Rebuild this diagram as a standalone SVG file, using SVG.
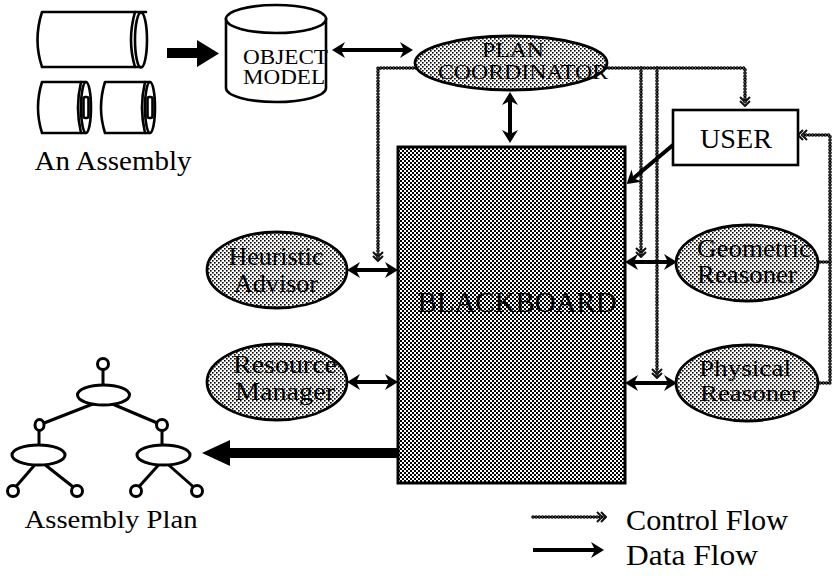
<svg xmlns="http://www.w3.org/2000/svg" xmlns:xlink="http://www.w3.org/1999/xlink" width="832" height="576" viewBox="0 0 832 576">
  <defs>
    <style>
      .txt { font-family: "Liberation Serif", "Times New Roman", serif; fill: #000; text-anchor: middle; }
      .ln { fill: none; stroke: #000; stroke-width: 2.6; stroke-linejoin: round; stroke-linecap: round; }
      .wf { fill: #fff; stroke: #000; stroke-width: 2.6; }
      .ell { fill: url(#stipple); stroke: #000; stroke-width: 2.8; }
      .data { fill: none; stroke: #000; stroke-width: 4; }
      .data2 { marker-start: url(#dhead); marker-end: url(#dhead); }
      .data1 { marker-end: url(#dhead); }
      .ctl-out { fill: none; stroke: #000; stroke-width: 3.6; stroke-dasharray: 0 3.2; stroke-linecap: round; stroke-linejoin: round; marker-end: url(#chead); }
      .ctl-in { fill: none; stroke: #fff; stroke-width: 0.8; stroke-dasharray: 0 3.2; stroke-linecap: round; marker-end: none; }
      .tree { fill: #fff; stroke: #000; stroke-width: 3; }
    </style>
    <!-- light dot stipple for the agent ellipses -->
    <pattern id="stipple" width="4" height="4" patternUnits="userSpaceOnUse">
      <rect width="4" height="4" fill="#fff"/>
      <rect x="0" y="0" width="1.6" height="1.6" fill="#000"/>
      <rect x="2" y="2" width="1.6" height="1.6" fill="#000"/>
    </pattern>
    <!-- dense checker for the blackboard -->
    <pattern id="checker" width="4" height="4" patternUnits="userSpaceOnUse">
      <rect width="4" height="4" fill="#fff"/>
      <rect x="0" y="0" width="2" height="2" fill="#000"/>
      <rect x="2" y="2" width="2" height="2" fill="#000"/>
    </pattern>
    <!-- barbed solid head for data flow -->
    <marker id="dhead" viewBox="-12 -9 16 18" refX="0" refY="0" markerWidth="16" markerHeight="18" markerUnits="userSpaceOnUse" orient="auto-start-reverse">
      <path d="M3,0 L-10,-8 L-6,0 L-10,8 Z" fill="#000"/>
    </marker>
    <!-- open double chevron for control flow -->
    <marker id="chead" viewBox="-9 -7 12 14" refX="0" refY="0" markerWidth="12" markerHeight="14" markerUnits="userSpaceOnUse" orient="auto">
      <path d="M-7,-5 L-2,0 L-7,5 M-3,-5 L2,0 L-3,5" fill="none" stroke="#111" stroke-width="2"/>
    </marker>
    <!-- control flow routes -->
    <path id="c1" d="M416,68 L378,68 L378,259"/>
    <path id="c2" d="M606,68 L745,68 L745,104"/>
    <path id="c3" d="M641,68 L641,255"/>
    <path id="c4" d="M657,68 L657,376"/>
    <path id="c5" d="M817,262 L830,262"/>
    <path id="c6" d="M817,383 L830,383 L830,135 L800,135"/>
    <path id="c7" d="M533,517 L604,517"/>
  </defs>

  <!-- connectors -->
  <g id="connectors">
    <use xlink:href="#c1" class="ctl-out"/><use xlink:href="#c1" class="ctl-in"/>
    <use xlink:href="#c2" class="ctl-out"/><use xlink:href="#c2" class="ctl-in"/>
    <use xlink:href="#c3" class="ctl-out"/><use xlink:href="#c3" class="ctl-in"/>
    <use xlink:href="#c4" class="ctl-out"/><use xlink:href="#c4" class="ctl-in"/>
    <use xlink:href="#c5" class="ctl-out" style="marker-end:none"/><use xlink:href="#c5" class="ctl-in"/>
    <use xlink:href="#c6" class="ctl-out"/><use xlink:href="#c6" class="ctl-in"/>

    <!-- assembly to object model -->
    <polygon points="167,48 197,48 197,40 219,53.5 197,67 197,58 167,58" fill="#000"/>
    <!-- object model <-> plan coordinator -->
    <line x1="335" y1="50" x2="410" y2="50" class="data data2"/>
    <!-- plan coordinator <-> blackboard -->
    <line x1="510" y1="95" x2="510" y2="140" class="data data2"/>
    <!-- user -> blackboard -->
    <line x1="673" y1="145" x2="629" y2="182" class="data data1"/>
    <!-- agents <-> blackboard -->
    <line x1="350" y1="270" x2="395" y2="270" class="data data2"/>
    <line x1="350" y1="382" x2="395" y2="382" class="data data2"/>
    <line x1="628" y1="262" x2="674" y2="262" class="data data2"/>
    <line x1="628" y1="383" x2="674" y2="383" class="data data2"/>
    <!-- blackboard to assembly plan -->
    <polygon points="398,448 230,448 230,440 202,453 230,466 230,458 398,458" fill="#000"/>
  </g>

  <!-- an assembly -->
  <g id="assembly">
    <path d="M146,12 L42,12 Q33,40 42,67 L141,67" class="ln"/>
    <path d="M135,12 Q127,40 135,67" class="ln"/>
    <ellipse cx="141" cy="40" rx="6" ry="27.5" class="ln"/>

    <path d="M86,82 L42,82 Q34,107.5 42,133 L86,133" class="ln"/>
    <path d="M81,82 Q75,107.5 81,133" class="ln"/>
    <ellipse cx="86" cy="107.5" rx="5" ry="25.5" class="ln"/>
    <rect x="83.5" y="97" width="5" height="21" rx="2" class="ln"/>

    <path d="M150,82 L105,82 Q97,107.5 105,133 L150,133" class="ln"/>
    <path d="M145,82 Q139,107.5 145,133" class="ln"/>
    <ellipse cx="150" cy="107.5" rx="5" ry="25.5" class="ln"/>
    <rect x="147.5" y="97" width="5" height="21" rx="2" class="ln"/>

    <text x="113" y="170" class="txt" font-size="27" textLength="157" lengthAdjust="spacingAndGlyphs">An Assembly</text>
  </g>

  <!-- object model store -->
  <g id="object-model">
    <path d="M226,19 L226,88 A50,14 0 0 0 326,88 L326,19 Z" class="wf"/>
    <ellipse cx="276" cy="19" rx="50" ry="14" class="wf"/>
    <text x="285.5" y="64" class="txt" font-size="20" textLength="85" lengthAdjust="spacingAndGlyphs">OBJECT</text>
    <text x="284" y="84" class="txt" font-size="20" textLength="82" lengthAdjust="spacingAndGlyphs">MODEL</text>
  </g>

  <!-- plan coordinator -->
  <g id="plan-coordinator">
    <ellipse cx="511" cy="63" rx="96" ry="27" class="ell"/>
    <text x="513" y="57" class="txt" font-size="20" textLength="62" lengthAdjust="spacingAndGlyphs">PLAN</text>
    <text x="523" y="79" class="txt" font-size="20" textLength="170" lengthAdjust="spacingAndGlyphs">COORDINATOR</text>
  </g>

  <!-- user -->
  <g id="user">
    <rect x="673" y="110" width="125" height="55" class="wf"/>
    <text x="736" y="148" class="txt" font-size="28" textLength="72" lengthAdjust="spacingAndGlyphs">USER</text>
  </g>

  <!-- blackboard -->
  <g id="blackboard">
    <rect x="398" y="147" width="227" height="336" fill="url(#checker)" stroke="#000" stroke-width="3"/>
    <text x="517" y="312" class="txt" font-size="29" textLength="199" lengthAdjust="spacingAndGlyphs">BLACKBOARD</text>
  </g>

  <!-- knowledge sources -->
  <g id="heuristic-advisor">
    <ellipse cx="277" cy="270" rx="70" ry="38" class="ell"/>
    <text x="276" y="265" class="txt" font-size="26" textLength="95" lengthAdjust="spacingAndGlyphs">Heuristic</text>
    <text x="276" y="292" class="txt" font-size="26" textLength="84" lengthAdjust="spacingAndGlyphs">Advisor</text>
  </g>
  <g id="resource-manager">
    <ellipse cx="277" cy="382" rx="70" ry="38" class="ell"/>
    <text x="285" y="373" class="txt" font-size="26" textLength="104" lengthAdjust="spacingAndGlyphs">Resource</text>
    <text x="285" y="400" class="txt" font-size="26" textLength="100" lengthAdjust="spacingAndGlyphs">Manager</text>
  </g>
  <g id="geometric-reasoner">
    <ellipse cx="747" cy="263" rx="71" ry="38" class="ell"/>
    <text x="754" y="257" class="txt" font-size="25" textLength="114" lengthAdjust="spacingAndGlyphs">Geometric</text>
    <text x="747" y="283" class="txt" font-size="25" textLength="100" lengthAdjust="spacingAndGlyphs">Reasoner</text>
  </g>
  <g id="physical-reasoner">
    <ellipse cx="747" cy="383" rx="71" ry="38" class="ell"/>
    <text x="745" y="376" class="txt" font-size="24" textLength="92" lengthAdjust="spacingAndGlyphs">Physical</text>
    <text x="750" y="401" class="txt" font-size="24" textLength="100" lengthAdjust="spacingAndGlyphs">Reasoner</text>
  </g>

  <!-- assembly plan tree -->
  <g id="assembly-plan">
    <line x1="103" y1="363" x2="103" y2="395" class="tree"/>
    <line x1="39" y1="425" x2="103" y2="400" class="tree"/>
    <line x1="162" y1="425" x2="103" y2="400" class="tree"/>
    <line x1="39" y1="425" x2="39" y2="455" class="tree"/>
    <line x1="162" y1="425" x2="162" y2="455" class="tree"/>
    <line x1="13" y1="490" x2="39" y2="460" class="tree"/>
    <line x1="77" y1="490" x2="39" y2="460" class="tree"/>
    <line x1="136" y1="490" x2="163" y2="460" class="tree"/>
    <line x1="197" y1="490" x2="163" y2="460" class="tree"/>
    <ellipse cx="103.5" cy="395" rx="26" ry="10" class="tree"/>
    <ellipse cx="38.5" cy="455" rx="26.5" ry="10" class="tree"/>
    <ellipse cx="163.5" cy="455" rx="26.5" ry="10" class="tree"/>
    <circle cx="103" cy="364" r="5.5" class="tree"/>
    <ellipse cx="39.5" cy="425" rx="4.5" ry="5.5" class="tree"/>
    <circle cx="162" cy="425" r="5.5" class="tree"/>
    <circle cx="13" cy="491" r="5.5" class="tree"/>
    <circle cx="77" cy="491" r="5.5" class="tree"/>
    <circle cx="136" cy="491" r="5.5" class="tree"/>
    <circle cx="197" cy="491" r="5.5" class="tree"/>
    <text x="111" y="528" class="txt" font-size="26" textLength="173" lengthAdjust="spacingAndGlyphs">Assembly Plan</text>
  </g>

  <!-- legend -->
  <g id="legend">
    <use xlink:href="#c7" class="ctl-out"/><use xlink:href="#c7" class="ctl-in"/>
    <text x="707" y="530" class="txt" font-size="29" textLength="162" lengthAdjust="spacingAndGlyphs">Control Flow</text>
    <line x1="533" y1="550" x2="601" y2="550" class="data data1"/>
    <text x="692" y="565" class="txt" font-size="29" textLength="132" lengthAdjust="spacingAndGlyphs">Data Flow</text>
  </g>
</svg>
